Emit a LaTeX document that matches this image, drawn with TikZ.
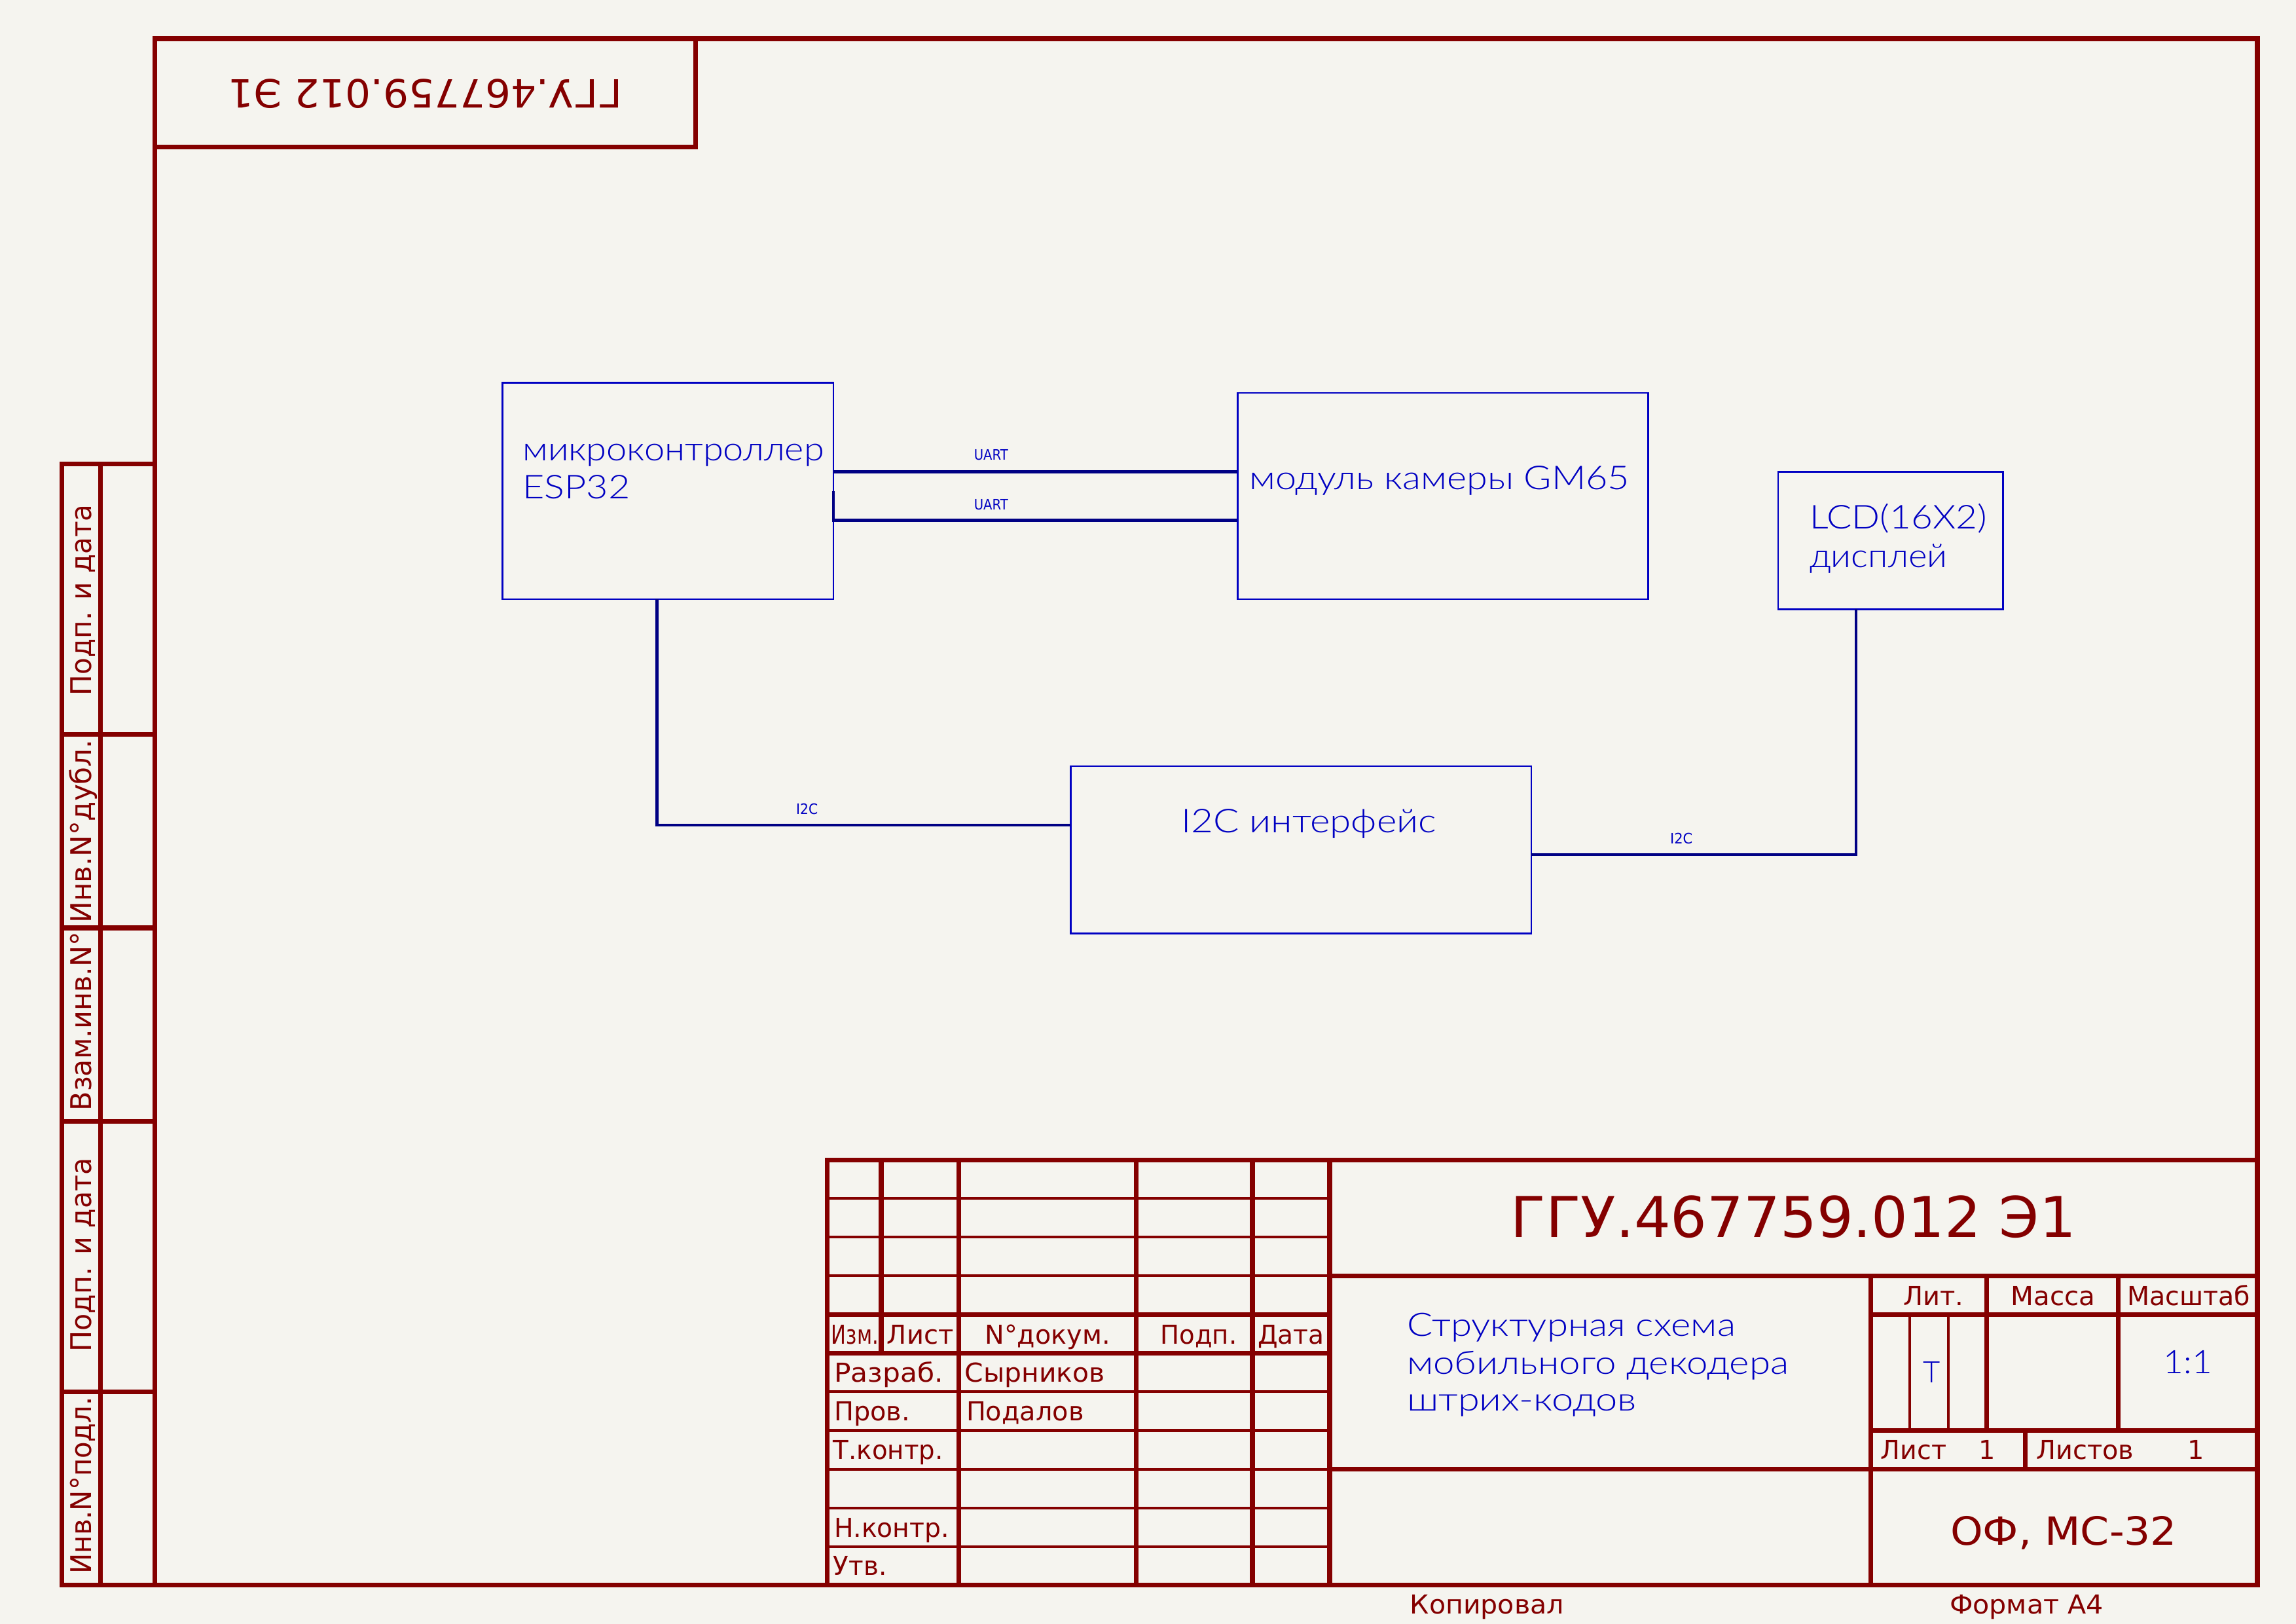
\documentclass[tikz,border=0pt]{standalone}
\usepackage{fontspec}
\setmainfont{DejaVu Sans}
\IfFontExistsTF{Lato Light}{\newfontfamily\lightf{Lato Light}}{\newfontfamily\lightf{DejaVu Sans}}
\usepackage{graphicx}
\newcommand\fitw[2]{\resizebox{#1}{\height}{#2}}
\definecolor{kred}{RGB}{132,0,0}
\definecolor{kblue}{RGB}{0,0,194}
\definecolor{kwire}{RGB}{0,0,132}
\definecolor{kbg}{RGB}{245,244,239}
\begin{document}
\begin{tikzpicture}[x=1mm,y=-1mm,
  thk/.style={draw=kred,line width=0.62mm,line cap=rect},
  thn/.style={draw=kred,line width=0.34mm},
  blk/.style={draw=kblue,line width=0.22mm,inner sep=0,outer sep=0},
  wire/.style={draw=kwire,line width=0.38mm},
  tx/.style={inner sep=0,outer sep=0},
  rt/.style={tx,text=kred},
  bt/.style={tx,text=kblue},
  fbig/.style={font=\lightf\fontsize{12.1pt}{14pt}\selectfont},
  fsm/.style={font=\fontsize{5.3pt}{6pt}\selectfont},
  ftab/.style={font=\fontsize{9.6pt}{11pt}\selectfont},
  fstrip/.style={font=\fontsize{10.5pt}{12pt}\selectfont},
  ftitle/.style={font=\fontsize{20.7pt}{24pt}\selectfont},
  fstamp/.style={font=\fontsize{14.3pt}{16pt}\selectfont},
  fname/.style={font=\lightf\fontsize{11.9pt}{14pt}\selectfont}]
\useasboundingbox (0,0) rectangle (297,210);
\fill[kbg] (0,0) rectangle (297,210);

% ---------- frame ----------
\draw[thk] (20,5) rectangle (292,205);
\draw[thk] (20,19) -- (90,19) -- (90,5);
\node[rt,fstamp,rotate=180] (stamp) at (55.0,12.14) {\fitw{51.0mm}{ГГУ.467759.012 Э1}};

% left strip
\draw[thk] (20,60) -- (8,60) -- (8,205) -- (20,205);
\draw[thk] (13,60) -- (13,205);
\foreach \yy in {95,120,145,180} \draw[thk] (8,\yy) -- (20,\yy);
\node[rt,fstrip,rotate=90,anchor=base] (s1) at (11.85,77.6) {\fitw{24.7mm}{Подп. и дата}};
\node[rt,fstrip,rotate=90,anchor=base] (s2) at (11.85,107.5) {\fitw{23.7mm}{Инв.N°дубл.}};
\node[rt,fstrip,rotate=90,anchor=base] (s3) at (11.85,132.1) {\fitw{23.1mm}{Взам.инв.N°}};
\node[rt,fstrip,rotate=90,anchor=base] (s4) at (11.85,162.3) {\fitw{25.1mm}{Подп. и дата}};
\node[rt,fstrip,rotate=90,anchor=base] (s5) at (11.85,192.1) {\fitw{22.9mm}{Инв.N°подл.}};

% ---------- title block lines ----------
\draw[thk] (107,150) -- (292,150);
\draw[thk] (172,165) -- (292,165);
\draw[thk] (107,170) -- (172,170);
\draw[thk] (242,170) -- (292,170);
\draw[thk] (107,175) -- (172,175);
\draw[thk] (242,185) -- (292,185);
\draw[thk] (172,190) -- (292,190);
\draw[thk] (107,150) -- (107,205);
\draw[thk] (114,150) -- (114,175);
\foreach \xx in {124,147,162,172} \draw[thk] (\xx,150) -- (\xx,205);
\draw[thk] (242,165) -- (242,205);
\draw[thk] (257,165) -- (257,185);
\draw[thk] (274,165) -- (274,185);
\draw[thk] (262,185) -- (262,190);
\foreach \yy in {155,160,165,180,185,190,195,200} \draw[thn] (107,\yy) -- (172,\yy);
\draw[thn] (247,170) -- (247,185);
\draw[thn] (252,170) -- (252,185);

% ---------- title block texts ----------
\node[rt,ftab,anchor=base west] (h1) at (107.55,173.85) {\fitw{6.1mm}{Изм.}};
\node[rt,ftab,anchor=base west] (h2) at (114.75,173.85) {\fitw{8.6mm}{Лист}};
\node[rt,ftab,anchor=base] (h3) at (135.5,173.85) {\fitw{16.2mm}{N°докум.}};
\node[rt,ftab,anchor=base west] (h4) at (150.1,173.85) {\fitw{9.9mm}{Подп.}};
\node[rt,ftab,anchor=base west] (h5) at (162.7,173.85) {\fitw{8.6mm}{Дата}};
\node[rt,ftab,anchor=base west] (r1) at (107.9,178.7) {\fitw{14.1mm}{Разраб.}};
\node[rt,ftab,anchor=base west] (r1n) at (124.8,178.7) {\fitw{18.1mm}{Сырников}};
\node[rt,ftab,anchor=base west] (r2) at (107.9,183.75) {\fitw{9.8mm}{Пров.}};
\node[rt,ftab,anchor=base west] (r2n) at (125.0,183.75) {\fitw{15.2mm}{Подалов}};
\node[rt,ftab,anchor=base west] (r3) at (107.8,188.75) {\fitw{14.2mm}{Т.контр.}};
\node[rt,ftab,anchor=base west] (r4) at (107.9,198.8) {\fitw{14.9mm}{Н.контр.}};
\node[rt,ftab,anchor=base west] (r5) at (107.8,203.7) {\fitw{6.9mm}{Утв.}};

\node[rt,ftitle,anchor=base] (des) at (232,160.0) {\fitw{73.1mm}{ГГУ.467759.012 Э1}};
\node[bt,fname,anchor=base west] (n1) at (182.0,172.8) {\fitw{42.5mm}{Структурная схема}};
\node[bt,fname,anchor=base west] (n2) at (182.0,177.7) {\fitw{49.4mm}{мобильного декодера}};
\node[bt,fname,anchor=base west] (n3) at (182.0,182.5) {\fitw{29.7mm}{штрих-кодов}};
\node[rt,ftab,anchor=base] (lit) at (250.1,168.8) {\fitw{7.8mm}{Лит.}};
\node[rt,ftab,anchor=base] (mas) at (265.6,168.8) {\fitw{10.9mm}{Масса}};
\node[rt,ftab,anchor=base] (msh) at (283.1,168.8) {\fitw{15.9mm}{Масштаб}};
\node[bt,font=\lightf\fontsize{10.9pt}{12pt}\selectfont,anchor=base] (litv) at (249.9,178.8) {Т};
\node[bt,fname,anchor=base] (mshv) at (283.0,177.6) {\fitw{6.3mm}{1:1}};
\node[rt,ftab,anchor=base west] (ls) at (243.3,188.75) {\fitw{8.5mm}{Лист}};
\node[rt,ftab,anchor=base] (lsv) at (257.05,188.75) {1};
\node[rt,ftab,anchor=base west] (lss) at (263.4,188.75) {\fitw{12.6mm}{Листов}};
\node[rt,ftab,anchor=base] (lssv) at (284.05,188.75) {1};
\node[rt,fstamp,anchor=base west] (org) at (252.3,199.8) {\fitw{29.3mm}{ОФ, МС-32}};
\node[rt,ftab,anchor=base west] (kop) at (182.4,208.7) {\fitw{19.9mm}{Копировал}};
\node[rt,ftab,anchor=base west] (fmt) at (252.2,208.7) {\fitw{19.9mm}{Формат А4}};

% ---------- blocks ----------
\node[blk,minimum width=42.8mm,minimum height=28mm] (esp) at (86.4,63.5) {};
\node[blk,minimum width=53.1mm,minimum height=26.7mm] (cam) at (186.65,64.15) {};
\node[blk,minimum width=29.1mm,minimum height=17.8mm] (lcd) at (244.55,69.9) {};
\node[blk,minimum width=59.6mm,minimum height=21.6mm] (i2c) at (168.3,109.9) {};

\node[bt,fbig,anchor=base west] (espt1) at (67.6,59.6) {\fitw{39.0mm}{микроконтроллер}};
\node[bt,fbig,anchor=base west] (espt2) at (67.6,64.5) {\fitw{13.9mm}{ESP32}};
\node[bt,fbig,anchor=base west] (camt) at (161.6,63.3) {\fitw{49.2mm}{модуль камеры GM65}};
\node[bt,fbig,anchor=base west] (lcdt1) at (234.1,68.4) {\fitw{22.9mm}{LCD(16X2)}};
\node[bt,fbig,anchor=base west] (lcdt2) at (234.1,73.4) {\fitw{17.8mm}{дисплей}};
\node[bt,fbig,anchor=base west] (i2ct) at (152.8,107.7) {\fitw{33.0mm}{I2C интерфейс}};

% ---------- connectors ----------
\coordinate (u1) at (0,61.0);
\coordinate (u2a) at (0,63.5);
\coordinate (u2) at (0,67.3);
\draw[wire] (u1 -| esp.east) -- (u1 -| cam.west);
\draw[wire] (u2a -| esp.east) -- (u2 -| esp.east) -- (u2 -| cam.west);
\coordinate (k1) at (85.0,106.7);
\draw[wire] (esp.south -| k1) -- (k1) -- (k1 -| i2c.west);
\coordinate (k2) at (240.1,110.5);
\draw[wire] (k2 -| i2c.east) -- (k2) -- (k2 |- lcd.south);

\node[bt,fsm,anchor=base] (lu1) at (128.2,59.5) {\fitw{4.4mm}{UART}};
\node[bt,fsm,anchor=base] (lu2) at (128.2,65.9) {\fitw{4.4mm}{UART}};
\node[bt,fsm,anchor=base west] (li1) at (103.0,105.3) {\fitw{2.8mm}{I2C}};
\node[bt,fsm,anchor=base] (li2) at (217.5,109.1) {\fitw{2.9mm}{I2C}};
\end{tikzpicture}
\end{document}
